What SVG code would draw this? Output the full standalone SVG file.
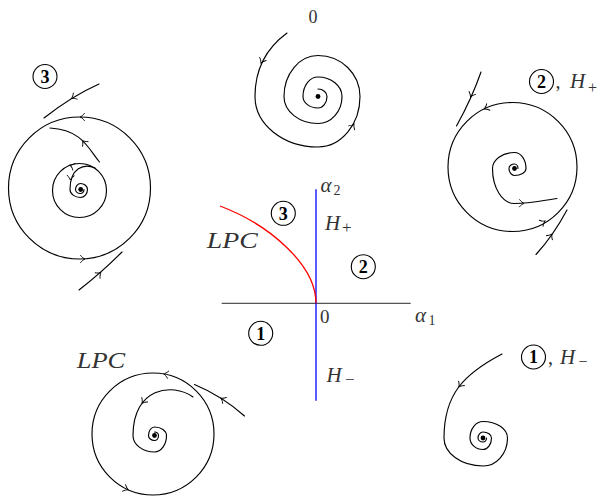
<svg xmlns="http://www.w3.org/2000/svg" width="611" height="496" viewBox="0 0 611 496">
<defs>
<style>
.c{fill:none;stroke:#000;stroke-width:1.15;stroke-linecap:round}
.ah{fill:none;stroke:#000;stroke-width:0.9;stroke-linecap:round}
.dot{fill:#000}
.ring{fill:none;stroke:#000;stroke-width:1.1}
.num{font-family:"Liberation Serif","DejaVu Serif",serif;font-weight:bold;font-size:18px;text-anchor:middle;fill:#000}
.it{font-family:"Liberation Serif","DejaVu Serif",serif;font-style:italic;fill:#333}
.rm{font-family:"Liberation Serif","DejaVu Serif",serif;fill:#333}
</style>
<path id="tip" class="ah" d="M -4.5 -3.6 C -3 -1.6 -1.2 -0.5 0 0 C -1.2 0.5 -3 1.6 -4.5 3.6"/>
</defs>
<rect width="611" height="496" fill="#fff"/>

<g id="portrait-0">
<text class="rm" x="313" y="22.7" font-size="18" text-anchor="middle">0</text>
<path class="c" d="M 287 33 C 272 44 255 62 255 96.5 A 63 50.5 0 0 0 318 147 A 42 50.5 0 0 0 360 96.5 A 42 41 0 0 0 318 55.5 A 34 41 0 0 0 284 96.5 A 34 27 0 0 0 318 123.5 A 24 27 0 0 0 342 96.5 A 24 19.5 0 0 0 318 77 A 15 19.5 0 0 0 303 96.5 A 15 11.5 0 0 0 318 108 A 9 11.5 0 0 0 327 96.5 A 9 7.5 0 0 0 318 89"/>
<circle class="dot" cx="318" cy="96.5" r="2.4"/>
<use href="#tip" transform="translate(261 63) rotate(115)"/>
<use href="#tip" transform="translate(354 124) rotate(-58)"/>
</g>

<g id="portrait-3">
<circle class="ring" cx="45" cy="76.5" r="12"/>
<text class="num" x="45" y="82.7">3</text>
<circle class="c" cx="79.5" cy="188" r="71"/>
<circle class="c" cx="79.5" cy="190.5" r="27"/>
<path class="c" d="M 99 84 Q 72 96 44 118"/>
<path class="c" d="M 79 290 Q 101 273 122 252"/>
<path class="c" d="M 99.5 162 C 88 148 82 130 50 128"/>
<path class="c" d="M 95 168 C 84 163 70 168 70 189.5 A 10.5 8 0 0 0 80.5 197.5 A 7 8 0 0 0 87.5 189.5 A 7 6 0 0 0 80.5 183.5 A 5 6 0 0 0 75.5 189.5 A 5 4 0 0 0 80.5 193.5 A 3.5 4 0 0 0 84 189.5"/>
<circle class="dot" cx="80.7" cy="189.5" r="2.4"/>
<use href="#tip" transform="translate(80 117) rotate(180)"/>
<use href="#tip" transform="translate(85 259) rotate(0)"/>
<use href="#tip" transform="translate(71.5 98.5) rotate(148)"/>
<use href="#tip" transform="translate(101 272.5) rotate(-41.5)"/>
<use href="#tip" transform="translate(82.4 140.5) rotate(-130)"/>
<use href="#tip" transform="translate(70 165.2) rotate(-159)"/>
<use href="#tip" transform="translate(70.3 180) rotate(95)"/>
</g>

<g id="portrait-2">
<circle class="ring" cx="541.5" cy="81.5" r="12"/>
<text class="num" x="541.5" y="87.7">2</text>
<text class="rm" x="555.5" y="88" font-size="20">,</text>
<text class="it" x="570" y="88" font-size="21">H</text>
<text class="rm" x="588" y="92.5" font-size="16">+</text>
<circle class="c" cx="512.5" cy="167" r="64.5"/>
<path class="c" d="M 481 72 Q 472 98 456.5 126"/>
<path class="c" d="M 536 254.5 Q 553 236 567 210"/>
<path class="c" d="M 518 168.5 A 3.5 4.5 0 0 0 514.5 164 A 5.5 4.5 0 0 0 509 168.5 A 5.5 7 0 0 0 514.5 175.5 A 11.5 7 0 0 0 526 168.5 A 11.5 16 0 0 0 514.5 152.5 A 22 16 0 0 0 492.5 168.5 A 22 35 0 0 0 514.5 203.5 C 530 203.5 545 200 557 198.5"/>
<circle class="dot" cx="514.5" cy="168.5" r="2.4"/>
<use href="#tip" transform="translate(484.2 109) rotate(154)"/>
<use href="#tip" transform="translate(545 221) rotate(-31)"/>
<use href="#tip" transform="translate(470.5 97) rotate(114)"/>
<use href="#tip" transform="translate(552 234) rotate(-55)"/>
<use href="#tip" transform="translate(524 203.4) rotate(2)"/>
</g>

<g id="portrait-LPC">
<text class="it" x="76.7" y="368.3" font-size="23" textLength="48.5" lengthAdjust="spacingAndGlyphs">LPC</text>
<circle class="c" cx="153" cy="434" r="61"/>
<path class="c" d="M 244.5 416 Q 222 396 194.5 384.5"/>
<path class="c" d="M 193 397 C 172 382 133 388 133 435.5 A 21.5 16.5 0 0 0 154.5 452 A 12 16.5 0 0 0 166.5 435.5 A 12 8.5 0 0 0 154.5 427 A 6 8.5 0 0 0 148.5 435.5 A 6 5 0 0 0 154.5 440.5 A 4 5 0 0 0 158.5 435.5 A 4 3.5 0 0 0 154.5 432"/>
<circle class="dot" cx="154.5" cy="435.5" r="2.4"/>
<use href="#tip" transform="translate(163.6 373.9) rotate(-170)"/>
<use href="#tip" transform="translate(128.2 489.7) rotate(24)"/>
<use href="#tip" transform="translate(220.8 398.1) rotate(-148)"/>
<use href="#tip" transform="translate(142 403.4) rotate(127)"/>
</g>

<g id="portrait-1">
<circle class="ring" cx="533.5" cy="357" r="12"/>
<text class="num" x="533.5" y="363.2">1</text>
<text class="rm" x="548" y="363.5" font-size="20">,</text>
<text class="it" x="560" y="363.5" font-size="21">H</text>
<text class="rm" x="578.5" y="366.5" font-size="16">−</text>
<path class="c" d="M 502 354 C 464 374 444 394 444 438 A 39 28 0 0 0 483 466 A 24.5 28 0 0 0 507.5 438 A 24.5 16.5 0 0 0 483 421.5 A 13 16.5 0 0 0 470 438 A 13 11.5 0 0 0 483 449.5 A 8.5 11.5 0 0 0 491.5 438 A 8.5 6 0 0 0 483 432 A 5 6 0 0 0 478 438 A 5 4 0 0 0 483 442 A 3.5 4 0 0 0 486.5 438"/>
<circle class="dot" cx="483" cy="438" r="2.4"/>
<use href="#tip" transform="translate(458.8 387) rotate(127)"/>
</g>

<g id="bifurcation-diagram">
<line x1="221.7" y1="303.3" x2="410.7" y2="303.3" stroke="#555" stroke-width="1.3"/>
<line x1="316" y1="189.3" x2="316" y2="400.7" stroke="#0000ff" stroke-width="1.3"/>
<path d="M 316 303.3 C 316 265 270 225 220 206" fill="none" stroke="#ff0000" stroke-width="1.3"/>
<text class="it" x="320.5" y="191.5" font-size="21">α</text>
<text class="rm" x="333.5" y="194.5" font-size="14">2</text>
<text class="it" x="325" y="229.5" font-size="21">H</text>
<text class="rm" x="342" y="233" font-size="17">+</text>
<text class="it" x="206.7" y="248.3" font-size="23" textLength="51" lengthAdjust="spacingAndGlyphs">LPC</text>
<text class="rm" x="320" y="323" font-size="19">0</text>
<text class="it" x="415" y="321.7" font-size="21">α</text>
<text class="rm" x="428.5" y="324.5" font-size="14">1</text>
<text class="it" x="326.5" y="381.7" font-size="21">H</text>
<text class="rm" x="345" y="385" font-size="17">−</text>
<g id="region-3"><circle class="ring" cx="283.3" cy="213.3" r="12"/><text class="num" x="283.3" y="219.5">3</text></g>
<g id="region-2"><circle class="ring" cx="363.3" cy="266.7" r="12"/><text class="num" x="363.3" y="272.9">2</text></g>
<g id="region-1"><circle class="ring" cx="260.7" cy="333.3" r="12"/><text class="num" x="260.7" y="339.5">1</text></g>
</g>
</svg>
